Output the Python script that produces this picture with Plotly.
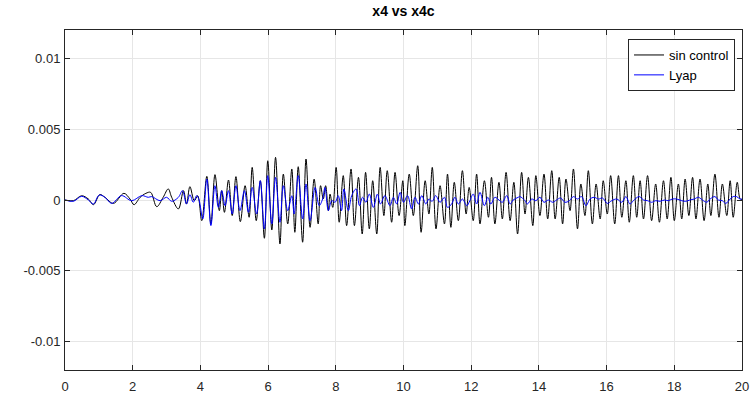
import plotly.graph_objects as go

# ---- data ----
t_sin = [0.00, 0.25, 0.49, 0.69, 0.84, 1.03, 1.18, 1.43, 1.74, 1.92, 2.04, 2.22, 2.39, 2.53, 2.71, 2.90, 3.05, 3.15,
         3.35, 3.50, 3.59, 3.69, 3.82, 3.92, 4.04, 4.19, 4.31, 4.43, 4.56, 4.63, 4.71, 4.83, 4.94, 5.05, 5.18, 5.32,
         5.44, 5.53, 5.65, 5.77, 5.89, 5.99, 6.11, 6.22, 6.35, 6.45, 6.58,
         6.70, 6.79, 6.89, 7.02, 7.12, 7.24, 7.36, 7.48, 7.55, 7.63, 7.70, 7.78, 7.83, 7.91, 8.01, 8.10, 8.22, 8.32,
         8.45, 8.55, 8.67, 8.78, 8.88, 8.99, 9.09, 9.21, 9.31, 9.42, 9.52, 9.65, 9.75, 9.87, 9.98,
         10.04, 10.17, 10.29, 10.42, 10.52, 10.64, 10.75, 10.85, 10.96, 11.08, 11.21, 11.30, 11.40, 11.50, 11.62,
         11.74, 11.85, 11.94, 12.06, 12.16, 12.26, 12.39, 12.51, 12.60, 12.70, 12.82, 12.92, 13.03, 13.15, 13.26, 13.37,
         13.49, 13.59, 13.69, 13.82, 13.91, 14.03, 14.15, 14.26, 14.38, 14.48, 14.60, 14.70, 14.80, 14.92, 15.02,
         15.14, 15.24, 15.36, 15.46, 15.58, 15.69, 15.81, 15.90, 16.02, 16.12, 16.24, 16.35, 16.45, 16.57, 16.67, 16.79,
         16.89, 16.99, 17.09, 17.21, 17.33, 17.45, 17.56, 17.68, 17.79, 17.90, 18.00, 18.12, 18.22, 18.32, 18.43,
         18.54, 18.64, 18.76, 18.88, 18.99, 19.08, 19.20, 19.32, 19.42, 19.55, 19.65, 19.74, 19.86, 19.94, 20.00]
x4_sin = [0.0, -0.00005, 0.0003, 0.00007, -0.00033, 0.00038, 0.00019, -0.00024, 0.00047, 0.00007, -0.00033, 0.00019,
          0.00047, 0.00054, -0.00047, 0.00019, 0.00078, 0.0002,
          -0.00063, 0.00066, -0.00028, 0.00094, -0.00005, 0.0003, -0.00146, 0.00167, -0.00169, 0.00179, -0.00075,
          0.00066, -0.00087, 0.00141, -0.0011, 0.00165, -0.00153, 0.00101, -0.00122, 0.0023, -0.00146, 0.00136,
          -0.0027, 0.00277, -0.00212, 0.00301, -0.0031, 0.00183, -0.00169,
          0.00219, -0.00228, 0.00235, -0.00298, 0.00289, -0.00193, 0.00148, -0.00169, 0.00101, 0.00007, 0.00101,
          -0.00075, 0.00042, -0.00052, 0.0023, -0.00157, 0.00172, -0.00181, 0.00219, -0.00181, 0.0016, -0.0024,
          0.00195, -0.00204, 0.00136, -0.0024, 0.0023, -0.0011, 0.00207, -0.00157, 0.00195, -0.0011, 0.00136,
          -0.00181, 0.00183, -0.0011, 0.00242, -0.00228, 0.00136, -0.00099, 0.0023, -0.00204, 0.00101, -0.00169,
          0.00183, -0.00193, 0.00125, -0.00146, 0.00207, -0.00099, 0.00089, -0.00146, 0.00183, -0.00169, 0.00136,
          -0.00122, 0.0016, -0.00169, 0.00125, -0.00134, 0.00195, -0.00146, 0.00125, -0.0024,
          0.00195, -0.00099, 0.0016, -0.00181, 0.00172, -0.0011, 0.00183, -0.00134, 0.00207, -0.00134, 0.0016,
          -0.00169, 0.00148, -0.00075, 0.00219, -0.00204, 0.00113, -0.0011, 0.00207, -0.00169, 0.00113, -0.00134,
          0.00136, -0.00099, 0.00172, -0.00169, 0.00172, -0.00122, 0.00136, -0.00157, 0.00172,
          -0.00122, 0.00136, -0.00134, 0.00172, -0.00146, 0.00113, -0.00157, 0.00136, -0.00134, 0.0016, -0.00146,
          0.00113, -0.00134, 0.00148, -0.0011, 0.0016, -0.00134, 0.00148, -0.00146, 0.00113, -0.0011, 0.00183,
          -0.00122, 0.00113, -0.0011, 0.00136, -0.00122, 0.00125, 0.0001, 0.0]

t_lyap = [0.00, 0.25, 0.49, 0.69, 0.84, 1.01, 1.18, 1.38, 1.67, 1.97, 2.27, 2.46, 2.56, 2.81, 3.00, 3.15,
          3.35, 3.47, 3.59, 3.69, 3.79, 3.89, 3.96, 4.07, 4.19, 4.31, 4.43, 4.53, 4.63, 4.73, 4.83, 4.94, 5.05,
          5.17, 5.30, 5.42, 5.53, 5.66, 5.77, 5.89, 5.99, 6.11, 6.22, 6.35, 6.45, 6.58,
          6.70, 6.77, 6.89, 7.02, 7.12, 7.24, 7.39, 7.51, 7.61, 7.68, 7.78, 7.88, 7.98, 8.07, 8.17, 8.24, 8.37,
          8.47, 8.60, 8.70, 8.79, 8.89, 8.99, 9.11, 9.23, 9.32, 9.45, 9.60, 9.70, 9.80, 9.90, 10.00,
          10.12, 10.24, 10.34, 10.44, 10.54, 10.66, 10.75, 10.85, 10.95, 11.08, 11.21, 11.30, 11.42, 11.52, 11.62,
          11.74, 11.87, 11.96, 12.06, 12.16, 12.26, 12.39, 12.49, 12.58, 12.70, 12.82, 12.92, 13.05, 13.15, 13.24,
          13.39, 13.44, 13.59, 13.66, 13.79, 13.91, 14.03, 14.15, 14.28, 14.41, 14.52, 14.64, 14.77, 14.90, 15.02,
          15.14, 15.26, 15.39, 15.51, 15.63, 15.76, 15.88, 16.02, 16.15, 16.30, 16.45, 16.57, 16.69, 16.79,
          16.96, 17.09, 17.21, 17.33, 17.45, 17.58, 17.71, 17.82, 17.94, 18.07, 18.22, 18.34, 18.46, 18.59, 18.71,
          18.86, 18.96, 19.06, 19.20, 19.30, 19.42, 19.52, 19.65, 19.74, 19.84, 19.94, 20.00]
x4_lyap = [0.0, -0.00009, 0.00026, 0.0, -0.00028, 0.00035, 0.00019, -0.00024, 0.00031, -0.00005, 0.00031, 0.00019,
           0.00024, -0.00005, 0.00019, -0.00009,
           0.00019, 0.00066, -0.00028, 0.00038, -0.00016, 0.00031, 0.0, -0.00134, 0.00148, -0.00181, 0.00101,
           -0.00052, 0.00066, -0.0004, 0.00066, -0.00099, 0.00101, -0.00075, 0.00066, -0.00087, 0.00089, -0.00099,
           0.00136, -0.00204, 0.00172, -0.00169, 0.0016, -0.00157, 0.00101, -0.00075,
           0.0003, -0.00099, 0.00172, -0.00134, 0.00113, -0.00146, 0.00089, -0.0004, 0.00007, 0.00089, -0.00075,
           -0.00005, -0.00016, 0.00031, -0.00075, 0.00078, -0.00075, 0.00031, 0.00078, -0.0004, 0.00019, -0.00016,
           0.00042, -0.00052, 0.00042, -0.00028, 0.00031, -0.0004, 0.00019, -0.00028, 0.00054, -0.00016,
           0.00031, -0.00063, 0.00019, -0.00028, 0.00031, -0.00028, 0.00007, -0.00009, 0.00031, -0.00016, 0.00019,
           -0.00052, -0.00028, 0.00019, -0.00028, 0.00007, -0.0004, -0.00005, 0.00042, -0.00028, 0.00054, -0.0004,
           0.00019, -0.00028, 0.00019, 0.0, -0.00016, 0.00031, -0.00028, 0.0, 0.00019,
           0.00024, -0.00005, -0.00028, 0.00007, -0.00005, 0.00019, -0.00016, 0.0, -0.00016, 0.0, 0.00014, -0.00016,
           -0.00005, 0.00024, 0.00007, 0.00024, -0.0004, 0.00007, 0.00019, 0.00007, 0.00014, -0.00024, -0.00005,
           0.00007, -0.00016, 0.00024, -0.00028, -0.00005,
           0.00024, 0.0, -0.00005, -0.00016, -0.00005, -0.00009, 0.0, -0.00005, 0.00007, 0.00007, -0.00005, -0.00009,
           0.0, 0.00007, 0.00019, -0.00005, -0.00016, 0.00007, 0.00024, 0.0, -0.00005, -0.00024, 0.00007, 0.00024,
           0.00024, 0.00007, 0.00007]

x_ticks = [0, 2, 4, 6, 8, 10, 12, 14, 16, 18, 20]
y_ticks = [-0.01, -0.005, 0, 0.005, 0.01]
y_tick_labels = ["-0.01", "-0.005", "0", "0.005", "0.01"]

AX = "#262626"
GRID = "#e6e6e6"
FONT = "Liberation Sans, Arial, sans-serif"

fig = go.Figure()
fig.add_trace(go.Scatter(x=t_sin, y=x4_sin, mode="lines", name="sin control",
                         line=dict(color="black", width=1, shape="spline", smoothing=1.0)))
fig.add_trace(go.Scatter(x=t_lyap, y=x4_lyap, mode="lines", name="Lyap",
                         line=dict(color="blue", width=1, shape="spline", smoothing=1.0)))

axis_common = dict(showline=True, linecolor=AX, linewidth=1, mirror="ticks",
                   ticks="inside", ticklen=5, tickcolor=AX, tickwidth=1,
                   showgrid=True, gridcolor=GRID, gridwidth=1, zeroline=False,
                   automargin=False,
                   tickfont=dict(family=FONT, size=13, color=AX))

fig.update_xaxes(range=[0, 20], tickvals=x_ticks, ticklabelstandoff=4, **axis_common)
fig.update_yaxes(range=[-0.012, 0.012], tickvals=y_ticks, ticktext=y_tick_labels,
                 ticklabelstandoff=1, **axis_common)

fig.update_layout(
    width=755, height=398,
    margin=dict(l=65, r=13, t=30, b=28, autoexpand=False),
    paper_bgcolor="white", plot_bgcolor="white",
    title=dict(text="<b>x4 vs x4c</b>", x=(65 + 742) / 2 / 755, xanchor="center",
               y=1 - 11 / 398, yanchor="middle",
               font=dict(family=FONT, size=14, color="black")),
    legend=dict(x=0.9897, y=0.9735, xanchor="right", yanchor="top",
                bgcolor="white", bordercolor=AX, borderwidth=1,
                font=dict(family=FONT, size=13, color="black"),
                tracegroupgap=0, itemwidth=30),
    showlegend=True,
)

fig.write_html("out.html")
